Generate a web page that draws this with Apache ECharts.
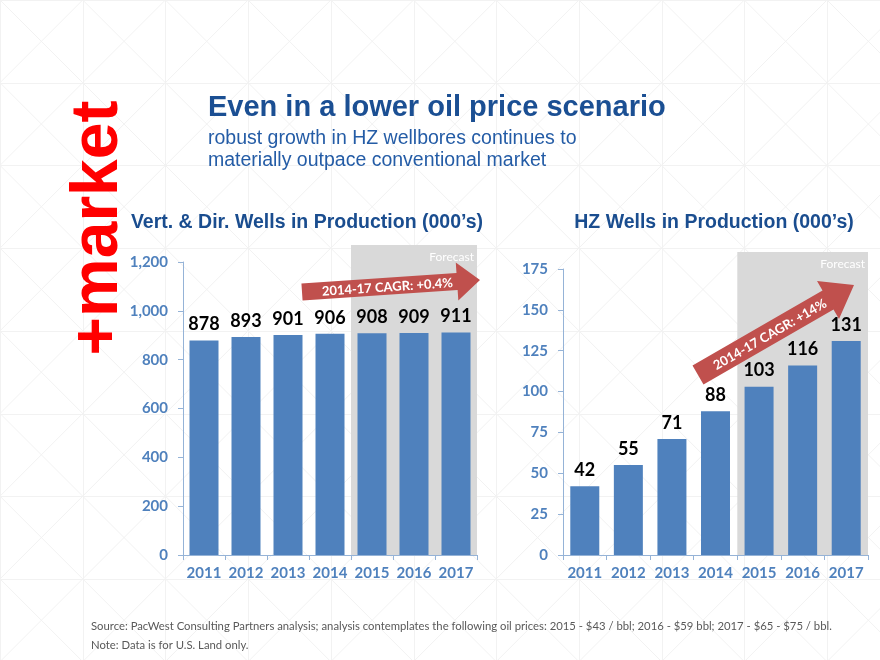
<!DOCTYPE html>
<html>
<head>
<meta charset="utf-8">
<script src="https://cdn.jsdelivr.net/npm/echarts@6/dist/echarts.min.js"></script>
<style>html,body{margin:0;padding:0;background:#fff;}#main{width:880px;height:660px;}</style>
</head>
<body>
<div id="main"></div>
<script>
// ---- data ----
const years = ['2011', '2012', '2013', '2014', '2015', '2016', '2017'];
const vertValues = [878, 893, 901, 906, 908, 909, 911];
const hzValues = [42, 55, 71, 88, 103, 116, 131];
const forecastYears = ['2015', '2017'];
const vertAxis = { min: 0, max: 1200, interval: 200 };
const hzAxis = { min: 0, max: 175, interval: 25 };
const mainTitle = 'Even in a lower oil price scenario';
const subTitle1 = 'robust growth in HZ wellbores continues to';
const subTitle2 = 'materially outpace conventional market';
const vertTitle = 'Vert. & Dir. Wells in Production (000\u2019s)';
const hzTitle = 'HZ Wells in Production (000\u2019s)';
const vertCagr = '2014-17 CAGR: +0.4%';
const hzCagr = '2014-17 CAGR: +14%';
const sideLabel = '+market';
const footnote1 = 'Source: PacWest Consulting Partners analysis; analysis contemplates the following oil prices: 2015 - $43 / bbl; 2016 - $59 bbl; 2017 - $65 - $75 / bbl.';
const footnote2 = 'Note: Data is for U.S. Land only.';

const BAR = '#4f81bd';
const AXIS = '#95b3d7';
const LBL = '#4f81bd';
const NUMFONT = 'Lato, "Open Sans", sans-serif';
const ARIAL = '"Liberation Sans", Arial, sans-serif';

const chart = echarts.init(document.getElementById('main'), null, { renderer: 'canvas' });

function fmt(v) { return String(v).replace(/\B(?=(\d{3})+(?!\d))/g, ','); }

function xAxisCfg(gi) {
  return {
    type: 'category', gridIndex: gi, data: years,
    axisLine: { lineStyle: { color: AXIS, width: 1 } },
    axisTick: { show: true, length: 5, lineStyle: { color: AXIS } },
    axisLabel: { interval: 0, color: LBL, fontFamily: NUMFONT, fontWeight: 'bold', fontSize: 15, margin: 11 }
  };
}
function yAxisCfg(gi, ax) {
  return {
    type: 'value', gridIndex: gi, min: ax.min, max: ax.max, interval: ax.interval,
    axisLine: { show: true, lineStyle: { color: AXIS, width: 1 } },
    axisTick: { show: true, length: 5, lineStyle: { color: AXIS } },
    splitLine: { show: false },
    axisLabel: { color: LBL, fontFamily: NUMFONT, fontWeight: 'bold', fontSize: 15, margin: 15, formatter: fmt }
  };
}
function barCfg(gi, vals) {
  return {
    type: 'bar', xAxisIndex: gi, yAxisIndex: gi, data: vals, barWidth: 29, z: 5,
    itemStyle: { color: BAR },
    label: { show: true, position: 'top', distance: 7, color: '#000', fontFamily: NUMFONT, fontWeight: 'bold', fontSize: 18 }
  };
}

chart.setOption({
  animation: false,
  backgroundColor: '#ffffff',
  grid: [
    { left: 183, top: 262, width: 294, height: 293 },
    { left: 563, top: 269, width: 305, height: 286 }
  ],
  xAxis: [xAxisCfg(0), xAxisCfg(1)],
  yAxis: [yAxisCfg(0, vertAxis), yAxisCfg(1, hzAxis)],
  series: [barCfg(0, vertValues), barCfg(1, hzValues)]
});

// ---- decorations ----
const g = [];
// background pattern
const cell = 82.7;
const bg = { stroke: '#f2f2f2', lineWidth: 1 };
for (let cx = 0; cx < 880; cx += cell) {
  for (let cy = 0; cy < 660; cy += cell) {
    g.push({ type: 'line', z: -20, silent: true, shape: { x1: cx, y1: cy, x2: cx + cell, y2: cy + cell }, style: bg });
    g.push({ type: 'line', z: -20, silent: true, shape: { x1: cx + cell, y1: cy, x2: cx, y2: cy + cell }, style: bg });
  }
}
for (let cx = 0; cx < 880; cx += cell) g.push({ type: 'line', z: -20, silent: true, shape: { x1: Math.round(cx) + 0.5, y1: 0, x2: Math.round(cx) + 0.5, y2: 660 }, style: bg });
for (let cy = 0; cy < 660; cy += cell) g.push({ type: 'line', z: -20, silent: true, shape: { x1: 0, y1: Math.round(cy) + 0.5, x2: 880, y2: Math.round(cy) + 0.5 }, style: bg });

// forecast boxes
function forecastBox(gi, topPad) {
  const a = chart.convertToPixel({ xAxisIndex: gi }, forecastYears[0]);
  const b = chart.convertToPixel({ xAxisIndex: gi }, forecastYears[1]);
  const prev = chart.convertToPixel({ xAxisIndex: gi }, years[years.indexOf(forecastYears[0]) - 1]);
  const band = a - prev;
  const y0 = chart.convertToPixel({ yAxisIndex: gi }, 0);
  const yTop = chart.convertToPixel({ yAxisIndex: gi }, gi === 0 ? vertAxis.max : hzAxis.max) - topPad;
  const x0 = a - band / 2, x1 = b + band / 2;
  g.push({ type: 'rect', z: -5, silent: true, shape: { x: x0, y: yTop, width: x1 - x0, height: y0 - yTop }, style: { fill: '#d9d9d9' } });
  g.push({ type: 'text', z: 50, silent: true, x: x1 - 3, y: yTop + 12, style: { text: 'Forecast', fill: '#ffffff', font: '12px ' + NUMFONT, textAlign: 'right', textVerticalAlign: 'middle' } });
}
forecastBox(0, 17);
forecastBox(1, 17);

// arrows
function arrow(x0, y0, x1, y1, bodyHalf, headHalf, headLen, text, fs, tpos, toff) {
  const dx = x1 - x0, dy = y1 - y0, L = Math.hypot(dx, dy);
  const ux = dx / L, uy = dy / L, nx = -uy, ny = ux;
  const bx = x1 - ux * headLen, by = y1 - uy * headLen;
  const pts = [
    [x0 + nx * bodyHalf, y0 + ny * bodyHalf],
    [bx + nx * bodyHalf, by + ny * bodyHalf],
    [bx + nx * headHalf, by + ny * headHalf],
    [x1, y1],
    [bx - nx * headHalf, by - ny * headHalf],
    [bx - nx * bodyHalf, by - ny * bodyHalf],
    [x0 - nx * bodyHalf, y0 - ny * bodyHalf]
  ];
  g.push({ type: 'polygon', z: 60, silent: true, shape: { points: pts }, style: { fill: '#c0504d' } });
  const d = (L - headLen) * tpos;
  g.push({ type: 'text', z: 61, silent: true, x: x0 + ux * d + nx * toff, y: y0 + uy * d + ny * toff, rotation: -Math.atan2(dy, dx),
    style: { text: text, fill: '#ffffff', font: 'bold ' + fs + 'px ' + NUMFONT, textAlign: 'center', textVerticalAlign: 'middle' } });
}
arrow(302, 292, 480, 280, 8.5, 19, 23, vertCagr, 13, 0.55, 1);
arrow(698, 375, 854, 285, 11, 22, 30, hzCagr, 13, 0.55, 1);

// titles
g.push({ type: 'text', z: 50, x: 208, y: 108, style: { text: mainTitle, fill: '#1b4f93', font: 'bold 29px ' + ARIAL, textVerticalAlign: 'middle' } });
g.push({ type: 'text', z: 50, x: 208, y: 139, style: { text: subTitle1, fill: '#245ca6', font: '19.5px ' + ARIAL, textVerticalAlign: 'middle' } });
g.push({ type: 'text', z: 50, x: 208, y: 161, style: { text: subTitle2, fill: '#245ca6', font: '19.5px ' + ARIAL, textVerticalAlign: 'middle' } });
g.push({ type: 'text', z: 50, x: 307, y: 223, style: { text: vertTitle, fill: '#1a4d8f', font: 'bold 19.5px ' + ARIAL, textAlign: 'center', textVerticalAlign: 'middle' } });
g.push({ type: 'text', z: 50, x: 714, y: 223, style: { text: hzTitle, fill: '#1a4d8f', font: 'bold 19.5px ' + ARIAL, textAlign: 'center', textVerticalAlign: 'middle' } });
// side label
g.push({ type: 'text', z: 50, x: 99, y: 228, rotation: Math.PI / 2, style: { text: sideLabel, fill: '#ff0000', font: 'bold 66px ' + ARIAL, textAlign: 'center', textVerticalAlign: 'middle' } });
// footnotes
g.push({ type: 'text', z: 50, x: 91, y: 626, style: { text: footnote1, fill: '#595959', font: '11.3px ' + NUMFONT, textVerticalAlign: 'middle' } });
g.push({ type: 'text', z: 50, x: 91, y: 645, style: { text: footnote2, fill: '#595959', font: '11.3px ' + NUMFONT, textVerticalAlign: 'middle' } });

chart.setOption({ graphic: { elements: g } });
</script>
</body>
</html>
